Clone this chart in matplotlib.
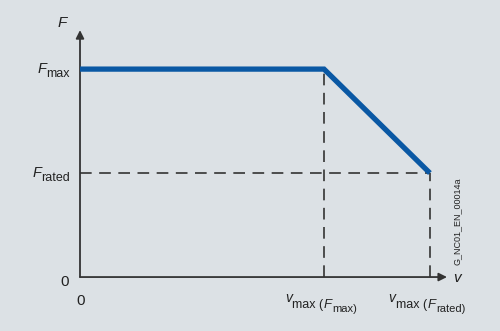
import matplotlib
matplotlib.use("Agg")
import matplotlib.pyplot as plt

# characteristic: force vs. velocity (normalised units)
v_pts = [0.0, 1.0, 1.434]          # 0, v_max(F_max), v_max(F_rated)
F_pts = [1.0, 1.0, 0.5]            # F_max, F_max, F_rated

# label pieces: (text, italic, fontsize, rise in points)
F_labels = [
    (1.0, [('F', True, 10.5, 0), ('max', False, 9, -3.3)]),
    (0.5, [('F', True, 10.5, 0), ('rated', False, 9, -3.3)]),
]
v_labels = [
    (1.0, [('v', True, 10, 4.0), ('max (', False, 9, 0), ('F', True, 9.5, 0),
           ('max)', False, 8, -2.2)]),
    (1.434, [('v', True, 10, 4.0), ('max (', False, 9, 0), ('F', True, 9.5, 0),
             ('rated)', False, 8, -2.2)]),
]

plt.rcParams['font.family'] = ['Liberation Sans', 'DejaVu Sans']

bg = '#dce1e5'
blue = '#0a58a4'
grey = '#333333'
txtc = '#222222'
px = 0.72   # points per pixel at 100 dpi

fig = plt.figure(figsize=(5, 3.31), dpi=100, facecolor=bg)
ax = fig.add_axes([0.16, 0.163, 0.734, 0.746])
ax.set_facecolor(bg)
xmax, ymax = 1.504, 1.1875
ax.set_xlim(0, xmax)
ax.set_ylim(0, ymax)
for s in ax.spines.values():
    s.set_visible(False)
ax.set_xticks([])
ax.set_yticks([])

# axes with arrows
arr = dict(arrowstyle='-|>', color=grey, lw=1.3, mutation_scale=12,
           shrinkA=0, shrinkB=0)
ax.annotate('', xy=(xmax, 0), xytext=(0, 0), arrowprops=arr,
            annotation_clip=False)
ax.annotate('', xy=(0, ymax), xytext=(0, 0), arrowprops=arr,
            annotation_clip=False)

# dashed guides
dash = dict(color=grey, lw=1.2, dashes=(7, 4.5))
ax.plot([0, v_pts[2]], [F_pts[2], F_pts[2]], **dash)
ax.plot([v_pts[1], v_pts[1]], [0, F_pts[1]], **dash)
ax.plot([v_pts[2], v_pts[2]], [0, F_pts[2]], **dash)

# characteristic curve
ax.plot(v_pts, F_pts, color=blue, lw=3.8, solid_capstyle='butt',
        solid_joinstyle='miter', zorder=5)


def rich(x, y, segs, dx, dy):
    arts = []
    prev, prev_rise = None, 0
    for txt, it, size, rise in segs:
        kw = dict(fontsize=size, color=txtc, style='italic' if it else 'normal',
                  textcoords='offset points', ha='left', annotation_clip=False)
        if prev is None:
            a = ax.annotate(txt, xy=(x, y), xycoords='data',
                            xytext=(dx, dy + rise), va='baseline', **kw)
        else:
            a = ax.annotate(txt, xy=(1, 0), xycoords=prev,
                            xytext=(0.2, rise - prev_rise), va='bottom', **kw)
        arts.append(a)
        prev, prev_rise = a, rise
    return arts


groups = []
for y, segs in F_labels:
    groups.append(('right', rich(0, y, segs, -10 * px, -3.5 * px)))
for x, segs in v_labels:
    groups.append(('center', rich(x, 0, segs, -3 * px, -31 * px)))

# shift chains so that they are right-aligned / centred
fig.canvas.draw()
r = fig.canvas.get_renderer()
for how, arts in groups:
    w = arts[-1].get_window_extent(r).x1 - arts[0].get_window_extent(r).x0
    sx = -w if how == 'right' else -w / 2
    dx0, dy0 = arts[0].xyann
    arts[0].xyann = (dx0 + sx * px, dy0)

ax.annotate('0', xy=(0, 0), xytext=(-15 * px, -5 * px), textcoords='offset points',
            ha='center', va='center', fontsize=11, color=txtc,
            annotation_clip=False)
ax.annotate('0', xy=(0, 0), xytext=(1 * px, -24 * px), textcoords='offset points',
            ha='center', va='center', fontsize=11, color=txtc,
            annotation_clip=False)
ax.annotate('F', xy=(0, ymax), xytext=(-18 * px, 3 * px), textcoords='offset points',
            ha='center', va='baseline', fontsize=11, style='italic', color=txtc,
            annotation_clip=False)
ax.annotate('v', xy=(xmax, 0), xytext=(6 * px, -5 * px), textcoords='offset points',
            ha='left', va='baseline', fontsize=11, style='italic', color=txtc,
            annotation_clip=False)
ax.annotate('G_NC01_EN_00014a', xy=(xmax, 0.27), xytext=(10 * px, 0),
            textcoords='offset points', rotation=90, ha='center', va='center',
            fontsize=6.5, color=txtc, annotation_clip=False)

fig.savefig('out.png', dpi=100, facecolor=bg)
